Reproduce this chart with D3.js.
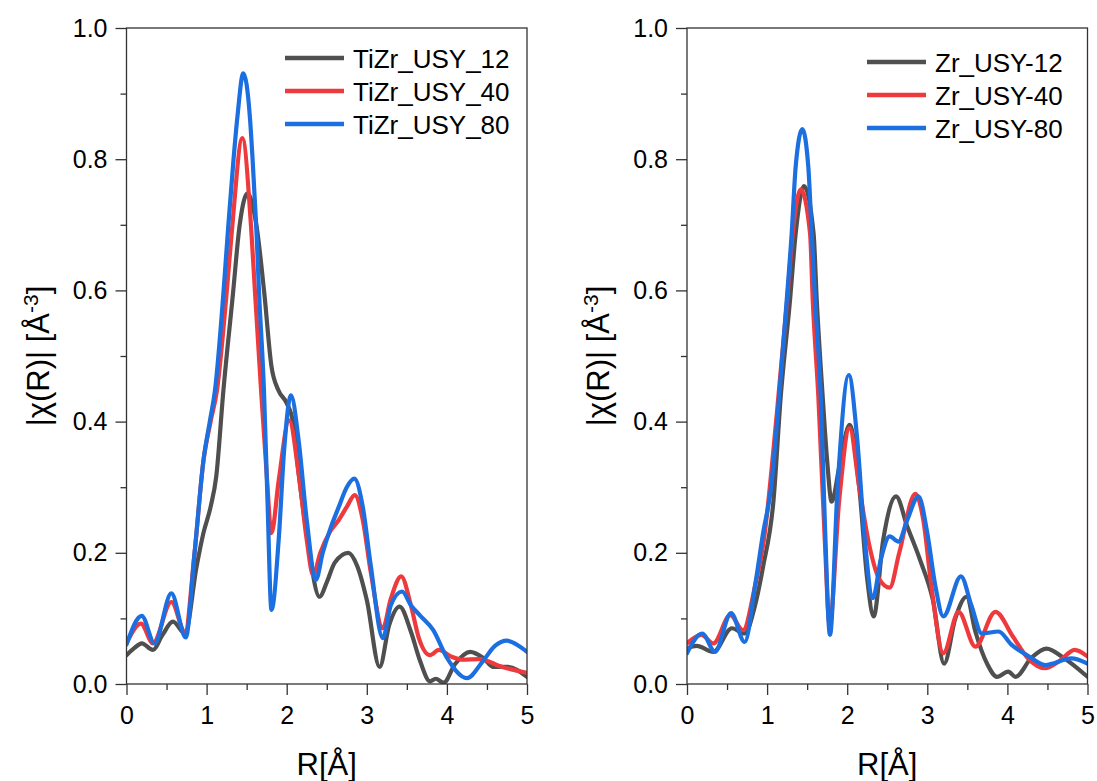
<!DOCTYPE html>
<html>
<head>
<meta charset="utf-8">
<script src="https://cdn.jsdelivr.net/npm/d3@7/dist/d3.min.js"></script>
<style>
  body { margin: 0; background: #fff; }
  svg { display: block; font-family: "Liberation Sans", Arial, sans-serif; }
</style>
</head>
<body>
<svg id="chart" width="1097" height="781"></svg>
<script>
// ---- Data (R in Å, |chi(R)|) ----
const leftNames = ["TiZr_USY_12", "TiZr_USY_40", "TiZr_USY_80"];
const rightNames = ["Zr_USY-12", "Zr_USY-40", "Zr_USY-80"];
const seriesColors = ["#4f4f4f", "#ee3a3c", "#1b6fe0"];

const tiZr12 = [[0,0.044],[0.1,0.055],[0.19,0.062],[0.33,0.052],[0.45,0.075],[0.58,0.095],[0.73,0.077],[0.875,0.179],[0.96,0.23],[1.05,0.27],[1.12,0.316],[1.21,0.448],[1.33,0.596],[1.41,0.697],[1.51,0.748],[1.625,0.697],[1.72,0.596],[1.81,0.484],[1.895,0.448],[2.0,0.428],[2.08,0.398],[2.15,0.32],[2.25,0.23],[2.41,0.133],[2.5,0.155],[2.6,0.185],[2.77,0.2],[2.88,0.18],[3.0,0.128],[3.16,0.026],[3.28,0.09],[3.41,0.118],[3.55,0.08],[3.66,0.037],[3.79,0.004],[3.86,0.008],[3.96,0.002],[4.1,0.03],[4.29,0.049],[4.45,0.04],[4.58,0.026],[4.76,0.026],[5.0,0.011]];
const tiZr40 = [[0,0.062],[0.18,0.092],[0.33,0.062],[0.56,0.125],[0.73,0.08],[0.85,0.2],[0.96,0.34],[1.05,0.4],[1.13,0.448],[1.25,0.596],[1.32,0.697],[1.446,0.832],[1.555,0.697],[1.605,0.596],[1.68,0.448],[1.75,0.32],[1.81,0.23],[1.9,0.31],[2.03,0.402],[2.15,0.32],[2.25,0.22],[2.33,0.166],[2.42,0.2],[2.54,0.232],[2.65,0.25],[2.75,0.27],[2.85,0.288],[2.95,0.25],[3.05,0.17],[3.2,0.085],[3.3,0.13],[3.43,0.164],[3.55,0.12],[3.65,0.07],[3.79,0.044],[3.9,0.052],[4.05,0.042],[4.2,0.037],[4.4,0.038],[4.69,0.026],[5.0,0.017]];
const tiZr80 = [[0,0.06],[0.19,0.104],[0.35,0.062],[0.56,0.138],[0.74,0.071],[0.85,0.2],[0.96,0.34],[1.04,0.4],[1.105,0.448],[1.21,0.596],[1.27,0.697],[1.335,0.798],[1.385,0.865],[1.458,0.931],[1.54,0.865],[1.575,0.798],[1.62,0.697],[1.655,0.596],[1.716,0.448],[1.76,0.28],[1.81,0.113],[1.9,0.22],[1.97,0.36],[2.054,0.44],[2.15,0.37],[2.25,0.25],[2.365,0.159],[2.45,0.2],[2.54,0.235],[2.65,0.27],[2.75,0.3],[2.844,0.313],[2.95,0.27],[3.05,0.18],[3.2,0.07],[3.3,0.12],[3.44,0.141],[3.55,0.12],[3.66,0.105],[3.83,0.082],[4.0,0.04],[4.25,0.009],[4.45,0.035],[4.6,0.058],[4.75,0.066],[4.9,0.058],[5.0,0.049]];

const zr12 = [[0,0.054],[0.12,0.058],[0.33,0.049],[0.56,0.085],[0.72,0.077],[0.85,0.12],[0.95,0.179],[1.08,0.28],[1.17,0.438],[1.286,0.585],[1.357,0.687],[1.46,0.759],[1.58,0.687],[1.62,0.585],[1.694,0.438],[1.75,0.34],[1.806,0.278],[1.9,0.33],[2.03,0.395],[2.15,0.3],[2.25,0.16],[2.33,0.103],[2.45,0.22],[2.61,0.286],[2.75,0.24],[2.91,0.189],[3.07,0.128],[3.21,0.031],[3.35,0.1],[3.49,0.133],[3.6,0.08],[3.75,0.03],[3.87,0.011],[4.01,0.019],[4.1,0.011],[4.3,0.04],[4.49,0.054],[4.7,0.04],[5.0,0.011]];
const zr40 = [[0,0.062],[0.18,0.075],[0.33,0.062],[0.54,0.105],[0.70,0.082],[0.85,0.15],[0.96,0.22],[1.12,0.41],[1.25,0.585],[1.32,0.687],[1.42,0.754],[1.536,0.687],[1.57,0.585],[1.64,0.438],[1.72,0.22],[1.78,0.09],[1.9,0.28],[2.03,0.39],[2.15,0.3],[2.28,0.209],[2.4,0.16],[2.53,0.147],[2.65,0.2],[2.85,0.29],[2.95,0.25],[3.05,0.15],[3.2,0.047],[3.39,0.11],[3.6,0.057],[3.85,0.11],[4.07,0.072],[4.25,0.04],[4.47,0.024],[4.65,0.035],[4.84,0.052],[5.0,0.042]];
const zr80 = [[0,0.047],[0.19,0.077],[0.35,0.049],[0.55,0.108],[0.72,0.064],[0.85,0.15],[0.95,0.23],[1.05,0.3],[1.15,0.438],[1.245,0.585],[1.307,0.687],[1.357,0.789],[1.44,0.846],[1.514,0.789],[1.557,0.687],[1.6,0.585],[1.67,0.438],[1.72,0.25],[1.785,0.075],[1.88,0.3],[2.02,0.471],[2.12,0.38],[2.22,0.22],[2.32,0.131],[2.42,0.19],[2.53,0.225],[2.64,0.217],[2.75,0.25],[2.89,0.286],[3.0,0.23],[3.1,0.15],[3.2,0.103],[3.42,0.164],[3.55,0.12],[3.68,0.077],[3.89,0.08],[4.05,0.06],[4.27,0.042],[4.47,0.029],[4.8,0.039],[5.0,0.031]];

const xMajorTicks = [0, 1, 2, 3, 4, 5];
const xMinorTicks = [0.5, 1.5, 2.5, 3.5, 4.5];
const yMajorTicks = [0, 0.2, 0.4, 0.6, 0.8, 1.0];
const yMinorTicks = [0.1, 0.3, 0.5, 0.7, 0.9];

// ---- Drawing ----
const svg = d3.select("#chart");
const panels = [
  { x0: 126.5, x1: 527, names: leftNames, data: [tiZr12, tiZr40, tiZr80], legX: 285, legY: 58 },
  { x0: 687, x1: 1087.5, names: rightNames, data: [zr12, zr40, zr80], legX: 867, legY: 62 }
];
const yTop = 28, yBot = 684;
const axisColor = "#333";
const fontFam = "'Liberation Sans', Arial, sans-serif";

panels.forEach(p => {
  const x = d3.scaleLinear().domain([0, 5]).range([p.x0, p.x1]);
  const y = d3.scaleLinear().domain([0, 1]).range([yBot, yTop]);
  const g = svg.append("g");

  const clipId = "clip" + Math.round(p.x0);
  svg.append("clipPath").attr("id", clipId).append("rect")
    .attr("x", p.x0).attr("y", yTop).attr("width", p.x1 - p.x0).attr("height", yBot - yTop);

  const line = d3.line().x(d => x(d[0])).y(d => y(d[1])).curve(d3.curveMonotoneX);
  p.data.forEach((s, i) => {
    g.append("path").datum(s)
      .attr("clip-path", `url(#${clipId})`)
      .attr("d", line)
      .attr("fill", "none")
      .attr("stroke", seriesColors[i])
      .attr("stroke-width", 4.2)
      .attr("stroke-linejoin", "round")
      .attr("stroke-linecap", "round");
  });

  // frame
  g.append("rect").attr("x", p.x0).attr("y", yTop)
    .attr("width", p.x1 - p.x0).attr("height", yBot - yTop)
    .attr("fill", "none").attr("stroke", axisColor).attr("stroke-width", 1.3);

  // x axis
  const xAxis = d3.axisBottom(x).tickValues(xMajorTicks).tickSize(11).tickPadding(11).tickFormat(d3.format("d"));
  const xg = g.append("g").attr("transform", `translate(0,${yBot})`).call(xAxis);
  const xMinor = d3.axisBottom(x).tickValues(xMinorTicks).tickSize(6).tickFormat("");
  const xmg = g.append("g").attr("transform", `translate(0,${yBot})`).call(xMinor);

  // y axis
  const yAxis = d3.axisLeft(y).tickValues(yMajorTicks).tickSize(11).tickPadding(8).tickFormat(d3.format(".1f"));
  const yg = g.append("g").attr("transform", `translate(${p.x0},0)`).call(yAxis);
  const yMinor = d3.axisLeft(y).tickValues(yMinorTicks).tickSize(6).tickFormat("");
  const ymg = g.append("g").attr("transform", `translate(${p.x0},0)`).call(yMinor);

  [xg, xmg, yg, ymg].forEach(a => {
    a.select(".domain").remove();
    a.selectAll("line").attr("stroke", axisColor).attr("stroke-width", 1.3);
    a.selectAll("text").attr("fill", "#000").style("font-size", "25px")
      .style("font-family", fontFam);
  });

  // x title
  g.append("text")
    .attr("x", (p.x0 + p.x1) / 2).attr("y", 775)
    .attr("text-anchor", "middle").style("font-size", "31px").attr("fill", "#000")
    .text("R[Å]");

  // y title
  const yt = g.append("text")
    .attr("transform", `translate(${p.x0 - 78},${(yTop + yBot) / 2}) rotate(-90)`)
    .attr("text-anchor", "middle").style("font-size", "31px").attr("fill", "#000");
  yt.append("tspan").text("|χ(R)| [Å");
  yt.append("tspan").attr("baseline-shift", "super").style("font-size", "21px").text("-3");
  yt.append("tspan").text("]");

  // legend
  p.names.forEach((n, i) => {
    const ly = p.legY + i * 33;
    g.append("line").attr("x1", p.legX).attr("x2", p.legX + 59)
      .attr("y1", ly).attr("y2", ly)
      .attr("stroke", seriesColors[i]).attr("stroke-width", 4.5);
    g.append("text").attr("x", p.legX + 68).attr("y", ly + 10)
      .style("font-size", "26px").attr("fill", "#000").text(n);
  });
});
</script>
</body>
</html>
